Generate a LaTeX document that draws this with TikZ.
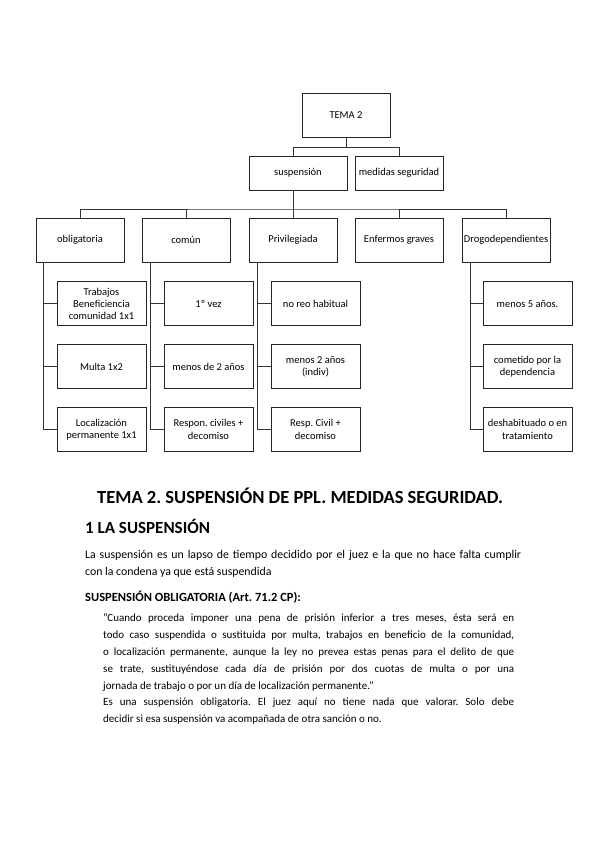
\documentclass[tikz,border=0pt]{standalone}
\usepackage{fontspec}
\setmainfont{Carlito}
\usetikzlibrary{positioning}
\frenchspacing
\tikzset{
  box/.style ={rectangle, draw=black!85, line width=0.8pt, minimum width=88pt,
               minimum height=44pt, align=center, inner sep=1pt,
               font=\fontsize{10.5}{12.3}\selectfont},
  leaf/.style={box, minimum width=89pt},
  conn/.style={draw=black!80, line width=1pt},
  txt/.style ={anchor=north west, inner sep=0pt, align=justify,
               font=\fontsize{11}{16.8}\selectfont}
}
\begin{document}
\begin{tikzpicture}[x=1pt, y=-1pt, node distance=18pt]
  \useasboundingbox (0,0) rectangle (599,848);
  \node[box] (tema) at (346,115) {TEMA 2};
  \node[box, minimum width=98pt, minimum height=34pt] (susp) at (298,173) {suspensión};
  \node[box, minimum height=34pt] (med) at (399,173) {medidas seguridad};
  \node[box] (obl) at (80,240) {obligatoria};
  \node[box] (com) at (186,240) {común};
  \node[box] (priv) at (293,240) {Privilegiada};
  \node[box] (enf) at (399,240) {Enfermos graves};
  \node[box] (drog) at (506,240) {Drogodependientes};
  \node[leaf, below=19pt of obl.south west, anchor=north west, xshift=21pt] (obl1) {Trabajos\\Beneficiencia\\comunidad 1x1};
  \node[leaf, below=of obl1] (obl2) {Multa 1x2};
  \node[leaf, below=of obl2] (obl3) {Localización\\permanente 1x1};
  \node[leaf, below=19pt of com.south west, anchor=north west, xshift=22pt] (com1) {1º vez};
  \node[leaf, below=of com1] (com2) {menos de 2 años};
  \node[leaf, below=of com2] (com3) {Respon. civiles +\\decomiso};
  \node[leaf, below=19pt of priv.south west, anchor=north west, xshift=22pt] (priv1) {no reo habitual};
  \node[leaf, below=of priv1] (priv2) {menos 2 años\\(indiv)};
  \node[leaf, below=of priv2] (priv3) {Resp. Civil +\\decomiso};
  \node[leaf, below=19pt of drog.south west, anchor=north west, xshift=21pt] (drog1) {menos 5 años.};
  \node[leaf, below=of drog1] (drog2) {cometido por la\\dependencia};
  \node[leaf, below=of drog2] (drog3) {deshabituado o en\\tratamiento};
  \coordinate (bus1) at (346,147);
  \coordinate (bus2) at (293,209);
  \draw[conn] (tema.south) -- (bus1) -| (bus2 |- susp.north);
  \draw[conn] (bus1) -| (med.north);
  \draw[conn] (bus2 |- susp.south) -- (bus2);
  \draw[conn] (obl.north) |- (bus2) -| (drog.north);
  \draw[conn] (com.north) -- (com.north |- bus2);
  \draw[conn] (priv.north) -- (bus2);
  \draw[conn] (enf.north) -- (enf.north |- bus2);
  \draw[conn] ([xshift=8pt]obl.south west) |- (obl1.west);
  \draw[conn] ([xshift=8pt]obl.south west) |- (obl2.west);
  \draw[conn] ([xshift=8pt]obl.south west) |- (obl3.west);
  \draw[conn] ([xshift=9pt]com.south west) |- (com1.west);
  \draw[conn] ([xshift=9pt]com.south west) |- (com2.west);
  \draw[conn] ([xshift=9pt]com.south west) |- (com3.west);
  \draw[conn] ([xshift=9pt]priv.south west) |- (priv1.west);
  \draw[conn] ([xshift=9pt]priv.south west) |- (priv2.west);
  \draw[conn] ([xshift=9pt]priv.south west) |- (priv3.west);
  \draw[conn] ([xshift=9pt]drog.south west) |- (drog1.west);
  \draw[conn] ([xshift=9pt]drog.south west) |- (drog2.west);
  \draw[conn] ([xshift=9pt]drog.south west) |- (drog3.west);
  \node[txt, anchor=base west, font=\bfseries\fontsize{18.5}{20}\selectfont] (titulo) at (97,503) {TEMA 2. SUSPENSIÓN DE PPL. MEDIDAS SEGURIDAD.};
  \node[txt, anchor=base west, font=\bfseries\fontsize{17}{19}\selectfont] (apartado) at (85,533) {1 LA SUSPENSIÓN};
  \node[txt, text width=436pt, font=\fontsize{11.8}{16.8}\selectfont] (defin) at (85,550) {La suspensión es un lapso de tiempo decidido por el juez e la que no hace falta cumplir\linebreak con la condena ya que está suspendida};
  \node[txt, anchor=base west, font=\bfseries\fontsize{12.5}{15}\selectfont] (oblig) at (85,601) {SUSPENSIÓN OBLIGATORIA (Art. 71.2 CP):};
  \node[txt, text width=411pt] (cita) at (103,614) {"Cuando proceda imponer una pena de prisión inferior a tres meses, ésta será en\linebreak
    todo caso suspendida o sustituida por multa, trabajos en beneficio de la comunidad,\linebreak
    o localización permanente, aunque la ley no prevea estas penas para el delito de que\linebreak
    se trate, sustituyéndose cada día de prisión por dos cuotas de multa o por una\linebreak
    jornada de trabajo o por un día de localización permanente."\\
    Es una suspensión obligatoria. El juez aquí no tiene nada que valorar. Solo debe\linebreak
    decidir si esa suspensión va acompañada de otra sanción o no.};
\end{tikzpicture}
\end{document}
